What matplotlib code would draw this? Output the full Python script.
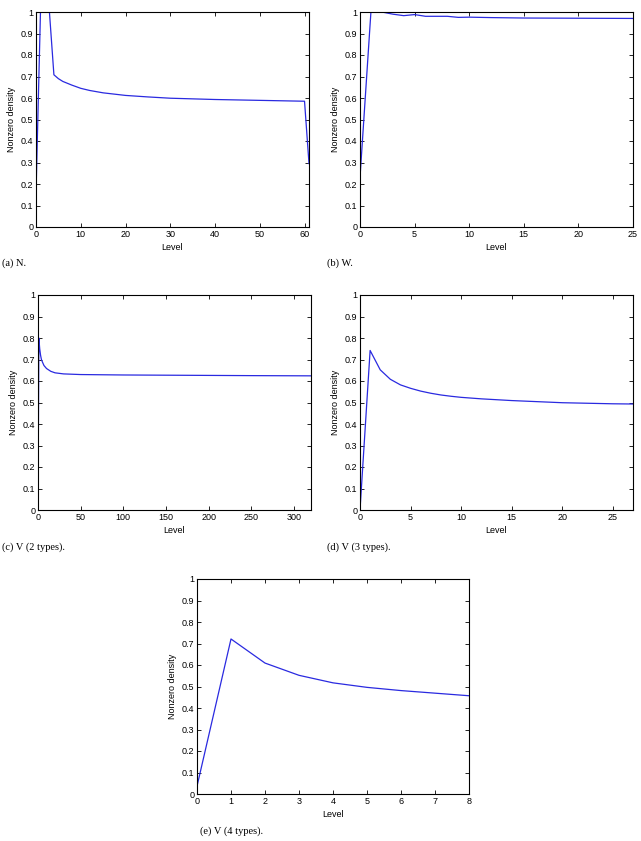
import matplotlib
matplotlib.use("Agg")
import matplotlib.pyplot as plt

plt.rcParams['font.family'] = ['Liberation Sans', 'DejaVu Sans']

# (a) N.
n_level = [0, 1, 2, 3, 4, 5, 6, 8, 10, 12, 15, 20, 25, 30, 40, 50, 60, 61]
n_density = [0.155, 1.0, 1.0, 1.0, 0.708, 0.69, 0.677, 0.66, 0.645, 0.635, 0.624, 0.612, 0.605, 0.599, 0.593, 0.589, 0.585, 0.295]

# (b) W.
w_level = [0, 1, 2, 3, 4, 5, 6, 7, 8, 9, 10, 12, 15, 20, 25]
w_density = [0.23, 1.0, 1.0, 0.99, 0.983, 0.988, 0.98, 0.98, 0.98, 0.975, 0.976, 0.974, 0.972, 0.971, 0.97]

# (c) V (2 types)
v2_level = [0, 1, 2, 3, 4, 5, 7, 10, 15, 20, 30, 50, 100, 150, 200, 250, 320]
v2_density = [0.0, 0.80, 0.75, 0.72, 0.70, 0.69, 0.672, 0.658, 0.645, 0.638, 0.633, 0.630, 0.628, 0.627, 0.626, 0.625, 0.624]

# (d) V (3 types)
v3_level = [0, 1, 2, 3, 4, 5, 6, 7, 8, 9, 10, 12, 15, 20, 25, 27]
v3_density = [0.0, 0.742, 0.652, 0.608, 0.582, 0.566, 0.553, 0.543, 0.535, 0.529, 0.524, 0.517, 0.509, 0.499, 0.494, 0.493]

# (e) V (4 types)
v4_level = [0, 1, 2, 3, 4, 5, 6, 7, 8]
v4_density = [0.036, 0.721, 0.609, 0.552, 0.517, 0.496, 0.481, 0.469, 0.457]

panels = [
    (n_level, n_density, 61, [0, 10, 20, 30, 40, 50, 60], "(a) N."),
    (w_level, w_density, 25, [0, 5, 10, 15, 20, 25], "(b) W."),
    (v2_level, v2_density, 320, [0, 50, 100, 150, 200, 250, 300], "(c) V (2 types)."),
    (v3_level, v3_density, 27, [0, 5, 10, 15, 20, 25], "(d) V (3 types)."),
    (v4_level, v4_density, 8, list(range(9)), "(e) V (4 types)."),
]

# axes boxes in pixels: left, top, right, bottom ; caption x, y
boxes = [
    (36, 12, 309, 227, 2, 263),
    (360, 12, 633, 227, 327, 263),
    (38, 295, 311, 510, 2, 547),
    (360, 295, 633, 510, 327, 547),
    (197, 579, 469, 794, 200, 831),
]

W, H = 641, 841
fig = plt.figure(figsize=(W / 100, H / 100), dpi=100)

for (x, y, xmax, xt, cap), (l, t, r, b, cx, cy) in zip(panels, boxes):
    ax = fig.add_axes([l / W, 1 - b / H, (r - l) / W, (b - t) / H])
    ax.plot(x, y, color='#2a2ae0', linewidth=0.9)
    ax.set_xlim(0, xmax)
    ax.set_ylim(0, 1)
    ax.set_xticks(xt)
    ax.set_yticks([i / 10 for i in range(11)])
    ax.set_yticklabels(['0'] + ['%.1f' % (i / 10) for i in range(1, 10)] + ['1'])
    ax.tick_params(direction='in', top=True, right=True, labelsize=6.5, length=3, width=0.6, pad=2)
    for s in ax.spines.values():
        s.set_linewidth(0.8)
    ax.set_xlabel("Level", fontsize=6.5, labelpad=3)
    ax.set_ylabel("Nonzero density", fontsize=6.5, labelpad=3)
    fig.text(cx / W, 1 - cy / H, cap, fontsize=7.5, family=['Liberation Serif', 'DejaVu Serif'],
             va='center', ha='left')

fig.savefig("out.png", dpi=100)
